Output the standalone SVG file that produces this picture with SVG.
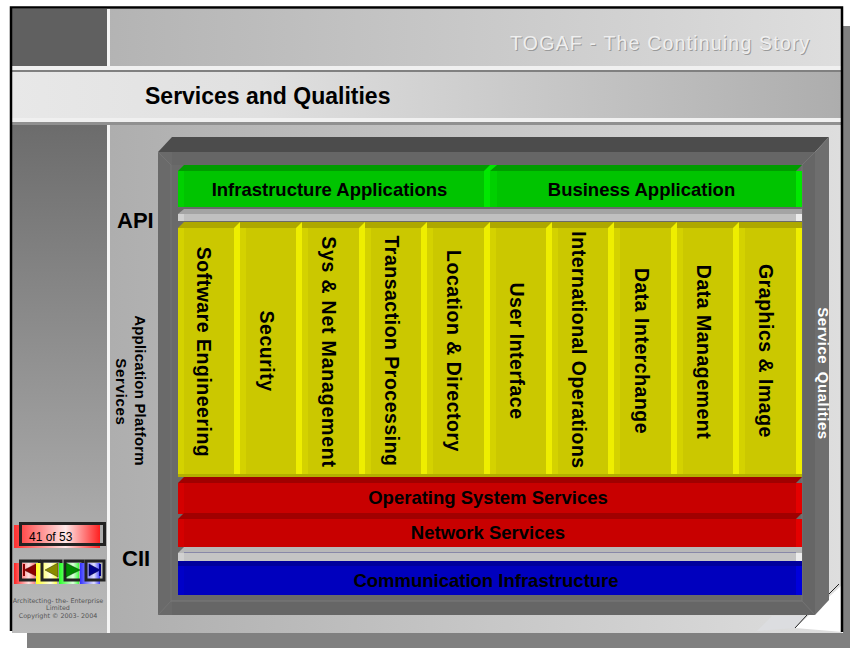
<svg xmlns="http://www.w3.org/2000/svg" width="850" height="648" viewBox="0 0 850 648">
<defs>
<linearGradient id="gLight" x1="0" y1="0" x2="1" y2="0"><stop offset="0" stop-color="#aeaeae"/><stop offset="1" stop-color="#dedede"/></linearGradient>
<linearGradient id="gTitle" x1="0" y1="0" x2="1" y2="0"><stop offset="0" stop-color="#e8e8e8"/><stop offset="0.3" stop-color="#e0e0e0"/><stop offset="1" stop-color="#adadad"/></linearGradient>
<linearGradient id="gSide" x1="0" y1="0" x2="0" y2="1"><stop offset="0" stop-color="#6c6c6c"/><stop offset="1" stop-color="#bcbcbc"/></linearGradient>
<linearGradient id="gRed" x1="0" y1="0" x2="1" y2="0"><stop offset="0" stop-color="#ff3030"/><stop offset="0.6" stop-color="#ffe8e8"/><stop offset="1" stop-color="#ff2020"/></linearGradient>
<linearGradient id="gBtnR" x1="0" y1="0" x2="1" y2="0"><stop offset="0" stop-color="#ff2020"/><stop offset="0.7" stop-color="#ffe0e0"/><stop offset="1" stop-color="#ff8080"/></linearGradient>
<linearGradient id="gBtnY" x1="0" y1="0" x2="1" y2="0"><stop offset="0" stop-color="#ffff20"/><stop offset="0.7" stop-color="#ffffe8"/><stop offset="1" stop-color="#ffff40"/></linearGradient>
<linearGradient id="gBtnG" x1="0" y1="0" x2="1" y2="0"><stop offset="0" stop-color="#20ff20"/><stop offset="0.7" stop-color="#e0ffe0"/><stop offset="1" stop-color="#40ff40"/></linearGradient>
<linearGradient id="gBtnB" x1="0" y1="0" x2="1" y2="0"><stop offset="0" stop-color="#3030ff"/><stop offset="0.7" stop-color="#e0e0ff"/><stop offset="1" stop-color="#4040ff"/></linearGradient>
</defs>
<style>
text{font-family:"Liberation Sans",Arial,sans-serif;fill:#000}
.b{font-weight:bold}
.lab{font-weight:bold;font-size:18.500px;text-anchor:middle}
.col{font-weight:bold;font-size:19.500px;text-anchor:middle;letter-spacing:.5px}
.small{font-family:"DejaVu Sans",sans-serif;font-size:6.400px;fill:#555;text-anchor:middle}
.nb{fill:none;stroke:#222;stroke-width:3}
.ytop{fill:#aea800}.yface{fill:#cbc800}.yl{fill:#d4d200}.yr{fill:#eeee00}.ybot{fill:#b4ae00}
</style>
<rect width="850" height="648" fill="#ffffff"/>
<rect x="27" y="26" width="823" height="622" fill="#808080"/>
<rect x="10" y="8" width="833" height="625" fill="#ffffff"/>
<rect id="top-band" x="12" y="9" width="830" height="57" fill="url(#gLight)"/>
<rect x="12" y="9" width="95" height="57" fill="#606060"/>
<rect id="title-band" x="12" y="72" width="830" height="46" fill="url(#gTitle)"/>
<rect x="12" y="66" width="830" height="4" fill="#f0f0f0"/><rect x="12" y="70" width="830" height="2" fill="#808080"/>
<rect x="12" y="118" width="830" height="4" fill="#f0f0f0"/><rect x="12" y="122" width="830" height="3" fill="#909090"/>
<rect x="110" y="125" width="732" height="508" fill="url(#gLight)"/>
<rect x="12" y="125" width="95" height="508" fill="url(#gSide)"/>
<rect x="107" y="9" width="3" height="57" fill="#f4f4f4"/><rect x="107" y="125" width="3" height="508" fill="#f4f4f4"/>
<polygon id="page-fold" points="843,584 843,632 795,628" fill="#ffffff"/>
<polygon points="757,631 772,616 805,616 795,628" fill="#dcdde0"/>
<line x1="839" y1="584" x2="829" y2="594" stroke="#222" stroke-width="1"/>
<line x1="807" y1="615" x2="795" y2="628" stroke="#222" stroke-width="1"/>
<polyline points="11,631 11,7.500 842,7.500 842,632" fill="none" stroke="#000" stroke-width="2.500"/>

<g id="header-text">
<text x="511" y="51" font-size="19.500" letter-spacing="1.200" style="fill:#9a9a9a">TOGAF - The Continuing Story</text>
<text x="510" y="50" font-size="19.500" letter-spacing="1.200" style="fill:#efefef">TOGAF - The Continuing Story</text>
<text x="145" y="104" font-size="23" class="b">Services and Qualities</text>
</g>

<g id="frame">
<polygon points="158,152 172,137 829,137 815,152" fill="#4c4c4c"/>
<polygon points="815,152 829,137 829,600 815,615" fill="#6e6e6e"/>
<rect x="158" y="152" width="657" height="463" fill="#666666"/>
<rect x="158" y="152" width="14" height="463" fill="#6a6a6a"/>
<rect x="171" y="165" width="631" height="436" fill="#6a6a6a"/>
<polyline points="158,152 171,165 171,601 158,615" fill="none" stroke="#747474"/>
<polyline points="815,152 802,165 802,601 815,615" fill="none" stroke="#747474"/>
<line x1="171" y1="601" x2="802" y2="601" stroke="#7a7a7a"/>
</g>

<g id="infrastructure-applications">
<rect x="178" y="171" width="312" height="36" fill="#00c400"/><polygon points="178,171 184,165 490,165 490,171" fill="#009c00"/><rect x="178" y="171" width="6" height="36" fill="#00d000"/><rect x="484" y="171" width="6" height="36" fill="#00e800"/>
<text x="329.500" y="196" class="lab">Infrastructure Applications</text>
</g>
<g id="business-application">
<rect x="490" y="171" width="312" height="36" fill="#00c400"/><polygon points="490,165 802,165 796,171 490,171" fill="#009c00"/><polygon points="484,171 490,165 497,165 490,171" fill="#00e800"/><rect x="490" y="171" width="7" height="36" fill="#00d000"/><rect x="796" y="171" width="6" height="36" fill="#00e800"/>
<text x="641.500" y="196" class="lab">Business Application</text>
</g>
<g id="api-bar">
<polygon points="178,214 184,209 802,209 802,214" fill="#a4a4a4"/><rect x="178" y="214" width="624" height="7" fill="#c0c0c0"/><rect x="178" y="214" width="6" height="7" fill="#d0d0d0"/><rect x="796" y="214" width="6" height="7" fill="#ececec"/>
</g>

<g id="software-engineering"><polygon points="178,228 184,222 240,222 240,228" class="ytop"/><rect x="178" y="228" width="62" height="249" class="yface"/><rect x="178" y="228" width="6" height="246" class="yl"/><rect x="234" y="228" width="6" height="246" class="yr"/><polygon points="234,228 240,222 246,222 240,228" class="yr"/><rect x="178" y="474" width="62" height="3" class="ybot"/>
<text transform="translate(197,352) rotate(90)" class="col">Software Engineering</text></g>
<g id="security"><rect x="240" y="222" width="62" height="6" class="ytop"/><rect x="240" y="228" width="62" height="249" class="yface"/><rect x="240" y="228" width="6" height="246" class="yl"/><rect x="296" y="228" width="6" height="246" class="yr"/><polygon points="296,228 302,222 308,222 302,228" class="yr"/><rect x="240" y="474" width="62" height="3" class="ybot"/>
<text transform="translate(260,351) rotate(90)" class="col">Security</text></g>
<g id="sys-net-management"><rect x="302" y="222" width="63" height="6" class="ytop"/><rect x="302" y="228" width="63" height="249" class="yface"/><rect x="302" y="228" width="6" height="246" class="yl"/><rect x="359" y="228" width="6" height="246" class="yr"/><polygon points="359,228 365,222 371,222 365,228" class="yr"/><rect x="302" y="474" width="63" height="3" class="ybot"/>
<text transform="translate(322,352) rotate(90)" class="col" style="letter-spacing:.8px">Sys &amp; Net Management</text></g>
<g id="transaction-processing"><rect x="365" y="222" width="62" height="6" class="ytop"/><rect x="365" y="228" width="62" height="249" class="yface"/><rect x="365" y="228" width="6" height="246" class="yl"/><rect x="421" y="228" width="6" height="246" class="yr"/><polygon points="421,228 427,222 433,222 427,228" class="yr"/><rect x="365" y="474" width="62" height="3" class="ybot"/>
<text transform="translate(385,351) rotate(90)" class="col">Transaction Processing</text></g>
<g id="location-directory"><rect x="427" y="222" width="63" height="6" class="ytop"/><rect x="427" y="228" width="63" height="249" class="yface"/><rect x="427" y="228" width="6" height="246" class="yl"/><rect x="484" y="228" width="6" height="246" class="yr"/><polygon points="484,228 490,222 496,222 490,228" class="yr"/><rect x="427" y="474" width="63" height="3" class="ybot"/>
<text transform="translate(447,351) rotate(90)" class="col">Location &amp; Directory</text></g>
<g id="user-interface"><rect x="490" y="222" width="62" height="6" class="ytop"/><rect x="490" y="228" width="62" height="249" class="yface"/><rect x="490" y="228" width="6" height="246" class="yl"/><rect x="546" y="228" width="6" height="246" class="yr"/><polygon points="546,228 552,222 558,222 552,228" class="yr"/><rect x="490" y="474" width="62" height="3" class="ybot"/>
<text transform="translate(510,351) rotate(90)" class="col">User Interface</text></g>
<g id="international-operations"><rect x="552" y="222" width="62" height="6" class="ytop"/><rect x="552" y="228" width="62" height="249" class="yface"/><rect x="552" y="228" width="6" height="246" class="yl"/><rect x="608" y="228" width="6" height="246" class="yr"/><polygon points="608,228 614,222 620,222 614,228" class="yr"/><rect x="552" y="474" width="62" height="3" class="ybot"/>
<text transform="translate(572,350) rotate(90)" class="col">International Operations</text></g>
<g id="data-interchange"><rect x="614" y="222" width="63" height="6" class="ytop"/><rect x="614" y="228" width="63" height="249" class="yface"/><rect x="614" y="228" width="6" height="246" class="yl"/><rect x="671" y="228" width="6" height="246" class="yr"/><polygon points="671,228 677,222 683,222 677,228" class="yr"/><rect x="614" y="474" width="63" height="3" class="ybot"/>
<text transform="translate(635,351) rotate(90)" class="col">Data Interchange</text></g>
<g id="data-management"><rect x="677" y="222" width="62" height="6" class="ytop"/><rect x="677" y="228" width="62" height="249" class="yface"/><rect x="677" y="228" width="6" height="246" class="yl"/><rect x="733" y="228" width="6" height="246" class="yr"/><polygon points="733,228 739,222 745,222 739,228" class="yr"/><rect x="677" y="474" width="62" height="3" class="ybot"/>
<text transform="translate(697,352) rotate(90)" class="col">Data Management</text></g>
<g id="graphics-image"><rect x="739" y="222" width="63" height="6" class="ytop"/><rect x="739" y="228" width="63" height="249" class="yface"/><rect x="739" y="228" width="6" height="246" class="yl"/><rect x="796" y="228" width="6" height="246" class="yr"/><rect x="739" y="474" width="63" height="3" class="ybot"/>
<text transform="translate(759,351) rotate(90)" class="col">Graphics &amp; Image</text></g>

<g id="operating-system-services">
<rect x="178" y="483" width="624" height="31" fill="#c80000"/><polygon points="178,483 184,477 802,477 796,483" fill="#a00000"/><rect x="178" y="483" width="6" height="31" fill="#d40000"/><rect x="796" y="483" width="6" height="31" fill="#e40000"/>
<text x="488" y="504" class="lab">Operating System Services</text>
</g>
<g id="network-services">
<rect x="178" y="519" width="624" height="28" fill="#c80000"/><polygon points="178,519 184,513 802,513 796,519" fill="#a00000"/><rect x="178" y="519" width="6" height="28" fill="#d40000"/><rect x="796" y="519" width="6" height="28" fill="#e40000"/>
<text x="488" y="539" class="lab">Network Services</text>
</g>
<g id="cii-bar">
<polygon points="178,553 184,547 802,547 802,553" fill="#b8b8b8"/><rect x="178" y="553" width="624" height="8" fill="#c4c4c4"/><line x1="184" y1="552.500" x2="796" y2="552.500" stroke="#8888a8"/><rect x="178" y="553" width="6" height="8" fill="#d0d0d0"/><rect x="796" y="553" width="6" height="8" fill="#ececec"/>
</g>
<g id="communication-infrastructure">
<rect x="178" y="566" width="624" height="29" fill="#0000be"/><polygon points="178,566 178,561 802,561 802,566" fill="#00009c"/><rect x="178" y="566" width="6" height="29" fill="#0000c8"/><rect x="796" y="566" width="6" height="29" fill="#0000dc"/>
<text x="486" y="587" class="lab">Communication Infrastructure</text>
</g>

<g id="side-labels">
<text x="117" y="228" font-size="22" class="b">API</text>
<text x="122" y="566" font-size="22" class="b">CII</text>
<text transform="translate(135,390.500) rotate(90)" font-size="15" letter-spacing=".2" class="b" text-anchor="middle">Application Platform</text>
<text transform="translate(116,392) rotate(90)" font-size="15" letter-spacing=".7" class="b" text-anchor="middle">Services</text>
<text transform="translate(818,373.500) rotate(90)" font-size="15" letter-spacing=".5" class="b" text-anchor="middle" style="fill:#ffffff;word-spacing:3px">Service Qualities</text>
</g>

<g id="page-counter">
<rect x="14" y="525" width="86" height="23" fill="url(#gRed)"/>
<rect x="20.500" y="523.500" width="84" height="21" class="nb"/>
<text x="29" y="541" font-size="12" fill="#222">41 of 53</text>
</g>
<g id="nav-first"><rect x="14" y="563" width="21" height="21" fill="url(#gBtnR)"/><rect x="20.500" y="561" width="19" height="19" class="nb"/><polygon points="24,570 36,564 36,576" fill="#8a0000" stroke="#400" stroke-width="0.500"/><rect x="23" y="564" width="2" height="12" fill="#8a0000"/></g>
<g id="nav-prev"><rect x="36" y="563" width="21" height="21" fill="url(#gBtnY)"/><rect x="42" y="561" width="19" height="19" class="nb"/><polygon points="45,570 58,563 58,577" fill="#8a8a00" stroke="#330" stroke-width="0.500"/></g>
<g id="nav-next"><rect x="59" y="563" width="20" height="21" fill="url(#gBtnG)"/><rect x="65" y="561" width="18" height="19" class="nb"/><polygon points="66,563 80,570 66,577" fill="#008a00" stroke="#030" stroke-width="0.500"/></g>
<g id="nav-last"><rect x="80" y="563" width="20" height="21" fill="url(#gBtnB)"/><rect x="86" y="561" width="18" height="19" class="nb"/><polygon points="89,564 100,570 89,576" fill="#00008a" stroke="#003" stroke-width="0.500"/><rect x="99" y="564" width="2" height="12" fill="#00008a"/></g>
<g id="copyright">
<text x="58" y="603" class="small">Architecting- the- Enterprise</text>
<text x="58" y="610" class="small">Limited</text>
<text x="58" y="618" class="small">Copyright © 2003- 2004</text>
</g>
</svg>
